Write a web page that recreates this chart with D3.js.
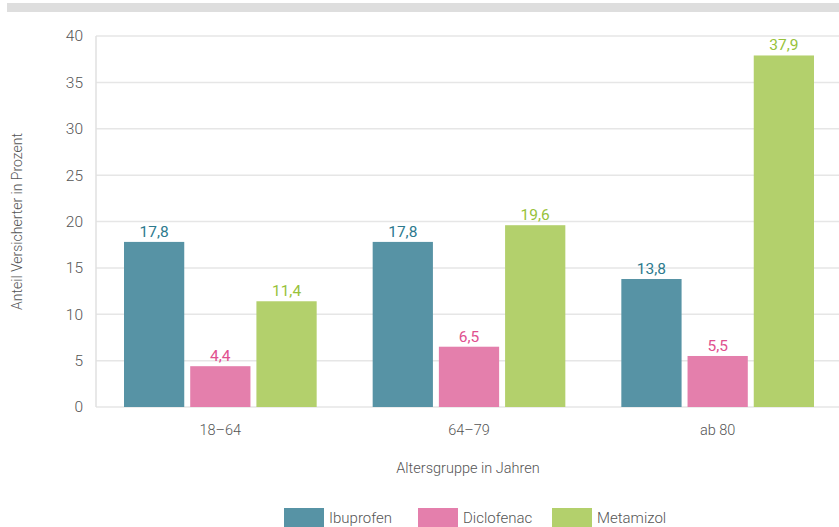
<!DOCTYPE html>
<html>
<head>
<meta charset="utf-8">
<script src="https://cdn.jsdelivr.net/npm/d3@7"></script>
<style>
  html, body { margin: 0; padding: 0; background: #fff; }
  svg { display: block; font-family: Roboto, "Noto Sans", sans-serif; }
</style>
</head>
<body>
<svg id="chart" width="839" height="527"></svg>
<script>
// Altersgruppen und Anteile je Wirkstoff (Prozent)
const categories = ["18–64", "64–79", "ab 80"];
const seriesNames = ["Ibuprofen", "Diclofenac", "Metamizol"];
const ibuprofen = [17.8, 17.8, 13.8];
const diclofenac = [4.4, 6.5, 5.5];
const metamizol = [11.4, 19.6, 37.9];
const yTicks = [0, 5, 10, 15, 20, 25, 30, 35, 40];

const barColors = ["#5793a5", "#e47fac", "#b3d06c"];
const labelColors = ["#2d7a8e", "#e0508f", "#97c23a"];
const seriesValues = [ibuprofen, diclofenac, metamizol];

const svg = d3.select("#chart");
const margin = { left: 96, right: -3, top: 36, bottom: 120 };
const W = 839, H = 527;

// top decorative band
svg.append("rect").attr("x", 7).attr("y", 3).attr("width", W - 7).attr("height", 9).attr("fill", "#dedede");

const x0 = d3.scaleBand().domain(categories).range([margin.left, W - margin.right]).paddingInner(0).paddingOuter(0);
const x1 = d3.scaleBand().domain(seriesNames).range([28, x0.bandwidth() - 28]).paddingInner(0.09).paddingOuter(0);
const y = d3.scaleLinear().domain([0, 40]).range([407, margin.top]);

// gridlines
const gridG = svg.append("g");
gridG.selectAll("line").data(yTicks).join("line")
  .attr("x1", margin.left).attr("x2", W)
  .attr("y1", d => y(d)).attr("y2", d => y(d))
  .attr("stroke", "#e6e6e6").attr("stroke-width", 1.5);
// y axis line
svg.append("line").attr("x1", margin.left).attr("x2", margin.left)
  .attr("y1", y(40)).attr("y2", y(0)).attr("stroke", "#e0e0e0").attr("stroke-width", 1.5);

// y tick labels
const yAxis = d3.axisLeft(y).tickValues(yTicks).tickSize(0).tickPadding(13);
const yg = svg.append("g").attr("transform", `translate(${margin.left},0)`).call(yAxis);
yg.select(".domain").remove();
yg.selectAll("text").attr("font-size", 15.5).attr("fill", "#555").attr("font-family", "Roboto, sans-serif").attr("font-weight", 300);

// x tick labels
const xAxis = d3.axisBottom(x0).tickSize(0).tickPadding(18);
const xg = svg.append("g").attr("transform", `translate(0,${y(0)})`).call(xAxis);
xg.select(".domain").remove();
xg.selectAll("text").attr("font-size", 14.5).attr("fill", "#555").attr("font-family", "Roboto, sans-serif").attr("font-weight", 300);

// bars
const rows = [];
categories.forEach((c, i) => seriesNames.forEach((s, j) => rows.push({ c, s, j, v: seriesValues[j][i] })));
const fmt = v => d3.format(".1f")(v).replace(".", ",");

const bars = svg.append("g");
bars.selectAll("rect").data(rows).join("rect")
  .attr("x", d => x0(d.c) + x1(d.s))
  .attr("width", x1.bandwidth())
  .attr("y", d => y(d.v))
  .attr("height", d => y(0) - y(d.v))
  .attr("fill", d => barColors[d.j]);

bars.selectAll("text").data(rows).join("text")
  .attr("x", d => x0(d.c) + x1(d.s) + x1.bandwidth() / 2)
  .attr("y", d => y(d.v) - 5)
  .attr("text-anchor", "middle")
  .attr("font-size", 15.5)
  .attr("fill", d => labelColors[d.j])
  .text(d => fmt(d.v));

// axis titles
svg.append("text")
  .attr("transform", `translate(22,${(y(0) + y(40)) / 2}) rotate(-90)`)
  .attr("text-anchor", "middle").attr("font-size", 14).attr("font-weight", 300).attr("fill", "#555")
  .text("Anteil Versicherter in Prozent");
svg.append("text")
  .attr("x", 468).attr("y", 473)
  .attr("text-anchor", "middle").attr("font-size", 14.5).attr("font-weight", 300).attr("fill", "#555")
  .text("Altersgruppe in Jahren");

// legend
const legendX = [284, 418, 552];
const lg = svg.append("g").selectAll("g").data(seriesNames).join("g")
  .attr("transform", (d, i) => `translate(${legendX[i]},508)`);
lg.append("rect").attr("width", 40).attr("height", 19).attr("fill", (d, i) => barColors[i]);
lg.append("text").attr("x", 45).attr("y", 15).attr("font-size", 15).attr("font-weight", 300).attr("fill", "#555").text(d => d);
</script>
</body>
</html>
